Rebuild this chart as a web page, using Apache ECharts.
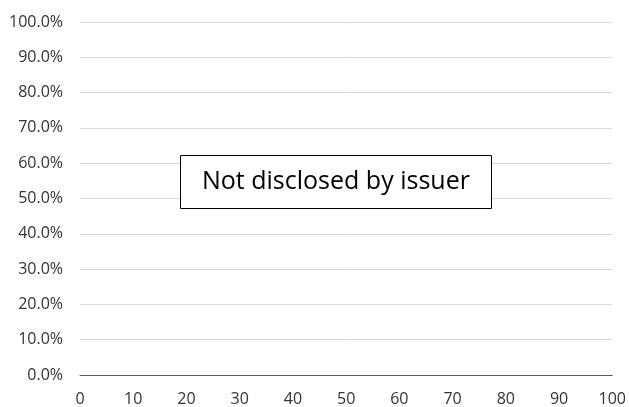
<!DOCTYPE html>
<html>
<head>
<meta charset="utf-8">
<script src="https://cdn.jsdelivr.net/npm/echarts@6/dist/echarts.min.js"></script>
<style>
  html, body { margin: 0; padding: 0; background: #fff; }
  #chart { width: 629px; height: 407px; }
</style>
</head>
<body>
<div id="chart"></div>
<script>
// Axis ranges and tick steps
const xRange = [0, 100];
const xStep = 10;
const yRange = [0, 1];
const yStep = 0.1;
// No values were published, so the series is empty
const seriesValues = [];
const noteText = 'Not disclosed by issuer';

const chart = echarts.init(document.getElementById('chart'), null, { renderer: 'canvas' });
const font = '"Open Sans", "Noto Sans", sans-serif';

chart.setOption({
  animation: false,
  backgroundColor: '#ffffff',
  grid: { left: 80, right: 14, top: 22, bottom: 29, containLabel: false },
  title: {
    text: noteText,
    left: 180,
    top: 155,
    padding: [14, 22, 14, 22],
    borderColor: '#000000',
    borderWidth: 1,
    backgroundColor: '#ffffff',
    textStyle: { fontFamily: font, fontSize: 25, fontWeight: 'normal', color: '#000000', lineHeight: 26 }
  },
  xAxis: {
    type: 'value',
    min: xRange[0],
    max: xRange[1],
    interval: xStep,
    axisLine: { show: true, onZero: false, lineStyle: { color: '#595959', width: 1 } },
    axisTick: { show: false },
    splitLine: { show: false },
    axisLabel: { color: '#333333', fontFamily: font, fontSize: 16, margin: 16 }
  },
  yAxis: {
    type: 'value',
    min: yRange[0],
    max: yRange[1],
    interval: yStep,
    axisLine: { show: false },
    axisTick: { show: false },
    splitLine: { show: true, lineStyle: { color: '#d9d9d9', width: 1 } },
    axisLabel: {
      color: '#333333', fontFamily: font, fontSize: 16, margin: 17,
      formatter: v => (v * 100).toFixed(1) + '%'
    }
  },
  series: [{ type: 'line', data: seriesValues, showSymbol: false }]
});
</script>
</body>
</html>
